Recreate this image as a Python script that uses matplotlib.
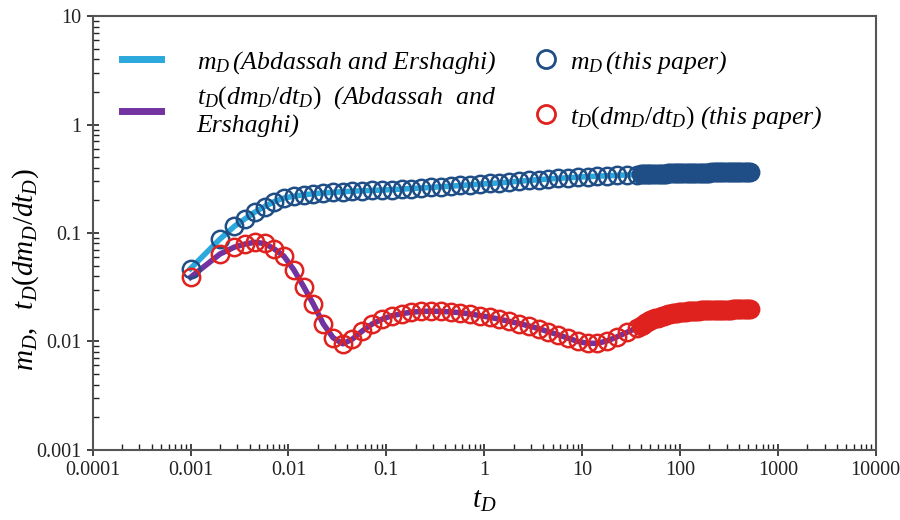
import matplotlib
matplotlib.use('Agg')
import matplotlib.pyplot as plt
from matplotlib.lines import Line2D
from matplotlib.ticker import FixedLocator, LogLocator, NullFormatter

t_sparse = [0.001, 0.002, 0.0028, 0.0036, 0.0045, 0.0057, 0.0072, 0.009,
            0.0113, 0.0143, 0.018, 0.0227, 0.0286, 0.036, 0.045, 0.057,
            0.072, 0.09, 0.113, 0.143, 0.18, 0.227, 0.286, 0.36, 0.453,
            0.57, 0.718, 0.9, 1.14, 1.43, 1.8, 2.27, 2.86, 3.6, 4.5, 5.7,
            7.2, 9.0, 11.4, 14.3, 18.0, 22.7, 28.6, 36.0]
md_sparse = [0.047, 0.088, 0.115, 0.135, 0.155, 0.175, 0.195, 0.21,
             0.218, 0.225, 0.23, 0.234, 0.237, 0.24, 0.243, 0.245,
             0.247, 0.249, 0.251, 0.254, 0.257, 0.26, 0.263, 0.267, 0.27,
             0.274, 0.278, 0.282, 0.286, 0.29, 0.295, 0.3, 0.305, 0.31,
             0.315, 0.319, 0.323, 0.327, 0.331, 0.334, 0.337, 0.34, 0.343,
             0.346]
dmd_sparse = [0.039, 0.064, 0.074, 0.079, 0.082, 0.080, 0.071, 0.061,
              0.046, 0.032, 0.022, 0.0145, 0.0108, 0.0095, 0.0105, 0.0125,
              0.0145, 0.016, 0.0172, 0.018, 0.0186, 0.0189, 0.019, 0.0189,
              0.0187, 0.0184, 0.0179, 0.0173, 0.0167, 0.016, 0.0153,
              0.0146, 0.0139, 0.0131, 0.0123, 0.0115, 0.0107, 0.0100,
              0.0096, 0.0096, 0.0101, 0.0110, 0.0121, 0.0133]

# dense part of "this paper" series (markers merge into a solid band)
t_dense = [40, 42, 44, 46, 48, 50, 53, 56, 59, 62, 65, 68, 72, 76, 80, 84,
           88, 93, 98, 103, 108, 114, 120, 126, 133, 140, 147, 155, 163,
           172, 181, 190, 200, 210, 221, 232, 244, 257, 270, 284, 299, 314,
           330, 347, 365, 384, 404, 425, 447, 470, 495, 520]
md_dense = [0.347, 0.348, 0.348, 0.349, 0.349, 0.350, 0.350, 0.351, 0.351,
            0.352, 0.352, 0.353, 0.353, 0.354, 0.354, 0.355, 0.355, 0.356,
            0.356, 0.357, 0.357, 0.357, 0.358, 0.358, 0.359, 0.359, 0.359,
            0.360, 0.360, 0.360, 0.361, 0.361, 0.361, 0.362, 0.362, 0.362,
            0.362, 0.363, 0.363, 0.363, 0.363, 0.364, 0.364, 0.364, 0.364,
            0.365, 0.365, 0.365, 0.365, 0.366, 0.366, 0.366]
dmd_dense = [0.0139, 0.0143, 0.0147, 0.0150, 0.0153, 0.0156, 0.0160, 0.0163,
             0.0166, 0.0168, 0.0170, 0.0172, 0.0175, 0.0177, 0.0179, 0.0181,
             0.0182, 0.0184, 0.0185, 0.0186, 0.0187, 0.0188, 0.0189, 0.0190,
             0.0191, 0.0191, 0.0192, 0.0192, 0.0193, 0.0193, 0.0194, 0.0194,
             0.0194, 0.0195, 0.0195, 0.0195, 0.0195, 0.0196, 0.0196, 0.0196,
             0.0196, 0.0196, 0.0196, 0.0197, 0.0197, 0.0197, 0.0197, 0.0197,
             0.0197, 0.0197, 0.0197, 0.0197]

x_ticks = [1e-4, 1e-3, 1e-2, 1e-1, 1, 10, 100, 1000, 10000]
x_tick_labels = ['0.0001', '0.001', '0.01', '0.1', '1', '10', '100', '1000', '10000']
y_ticks = [1e-3, 1e-2, 1e-1, 1, 10]
y_tick_labels = ['0.001', '0.01', '0.1', '1', '10']

c_line_m = '#2BA8DC'
c_line_t = '#7232A0'
c_mark_m = '#1F4E86'
c_mark_t = '#E0221E'

plt.rcParams['font.family'] = ['Liberation Serif', 'DejaVu Serif']
plt.rcParams['mathtext.fontset'] = 'custom'
plt.rcParams['mathtext.it'] = 'Liberation Serif:italic'
plt.rcParams['mathtext.rm'] = 'Liberation Serif'

fig = plt.figure(figsize=(9, 5.2), dpi=100)
ax = fig.add_axes([0.103, 0.135, 0.870, 0.834])

ax.plot(t_sparse, md_sparse, '-', color=c_line_m, lw=4, zorder=2)
ax.plot(t_sparse, dmd_sparse, '-', color=c_line_t, lw=4, zorder=2)

mk = dict(linestyle='none', marker='o', markersize=12.5, mew=1.8, zorder=3)
ax.plot(t_sparse, md_sparse, color=c_mark_m, mfc='none', **mk)
ax.plot(t_sparse, dmd_sparse, color=c_mark_t, mfc='none', **mk)
# the dense points overlap into a filled band in the original
ax.plot(t_dense, md_dense, color=c_mark_m, mfc=c_mark_m, **mk)
ax.plot(t_dense, dmd_dense, color=c_mark_t, mfc=c_mark_t, **mk)

ax.set_xscale('log')
ax.set_yscale('log')
ax.set_xlim(1e-4, 1e4)
ax.set_ylim(1e-3, 10)
ax.xaxis.set_major_locator(FixedLocator(x_ticks))
ax.set_xticklabels(x_tick_labels)
ax.yaxis.set_major_locator(FixedLocator(y_ticks))
ax.set_yticklabels(y_tick_labels)
for a in (ax.xaxis, ax.yaxis):
    a.set_minor_locator(LogLocator(base=10, subs=range(2, 10), numticks=20))
    a.set_minor_formatter(NullFormatter())
ax.tick_params(which='major', direction='inout', length=8, width=1.2,
               labelsize=14.5, colors='#222222', pad=4)
ax.tick_params(which='minor', direction='in', length=4, width=1, colors='#222222')
for s in ax.spines.values():
    s.set_linewidth(1.5)
    s.set_color('#555555')

ax.set_xlabel(r'$t_D$', fontsize=21, labelpad=6)
ax.set_ylabel(r'$m_D,\ \ t_D(dm_D/dt_D)$', fontsize=21)
ax.yaxis.set_label_coords(-0.066, 0.415)

h1 = [Line2D([], [], color=c_line_m, lw=5),
      Line2D([], [], color=c_line_t, lw=5)]
l1 = [r'$m_D\,$(Abdassah and Ershaghi)',
      r'$t_D(dm_D/dt_D)$  (Abdassah  and' + '\n' + 'Ershaghi)']
leg1 = ax.legend(h1, l1, loc='upper left', bbox_to_anchor=(0.008, 0.978),
                 frameon=False, prop={'style': 'italic', 'size': 18.5},
                 handlelength=1.5, handletextpad=1.4, labelspacing=0.35)
ax.add_artist(leg1)

h2 = [Line2D([], [], linestyle='none', marker='o', markersize=13, mfc='none',
             mew=2, color=c_mark_m),
      Line2D([], [], linestyle='none', marker='o', markersize=13, mfc='none',
             mew=2, color=c_mark_t)]
l2 = [r'$m_D\,$(this paper)', r'$t_D(dm_D/dt_D)$ (this paper)']
ax.legend(h2, l2, loc='upper left', bbox_to_anchor=(0.533, 0.978),
          frameon=False, prop={'style': 'italic', 'size': 18.5},
          handlelength=1.0, handletextpad=0.45, labelspacing=1.1)

fig.savefig('out.png', dpi=100)
